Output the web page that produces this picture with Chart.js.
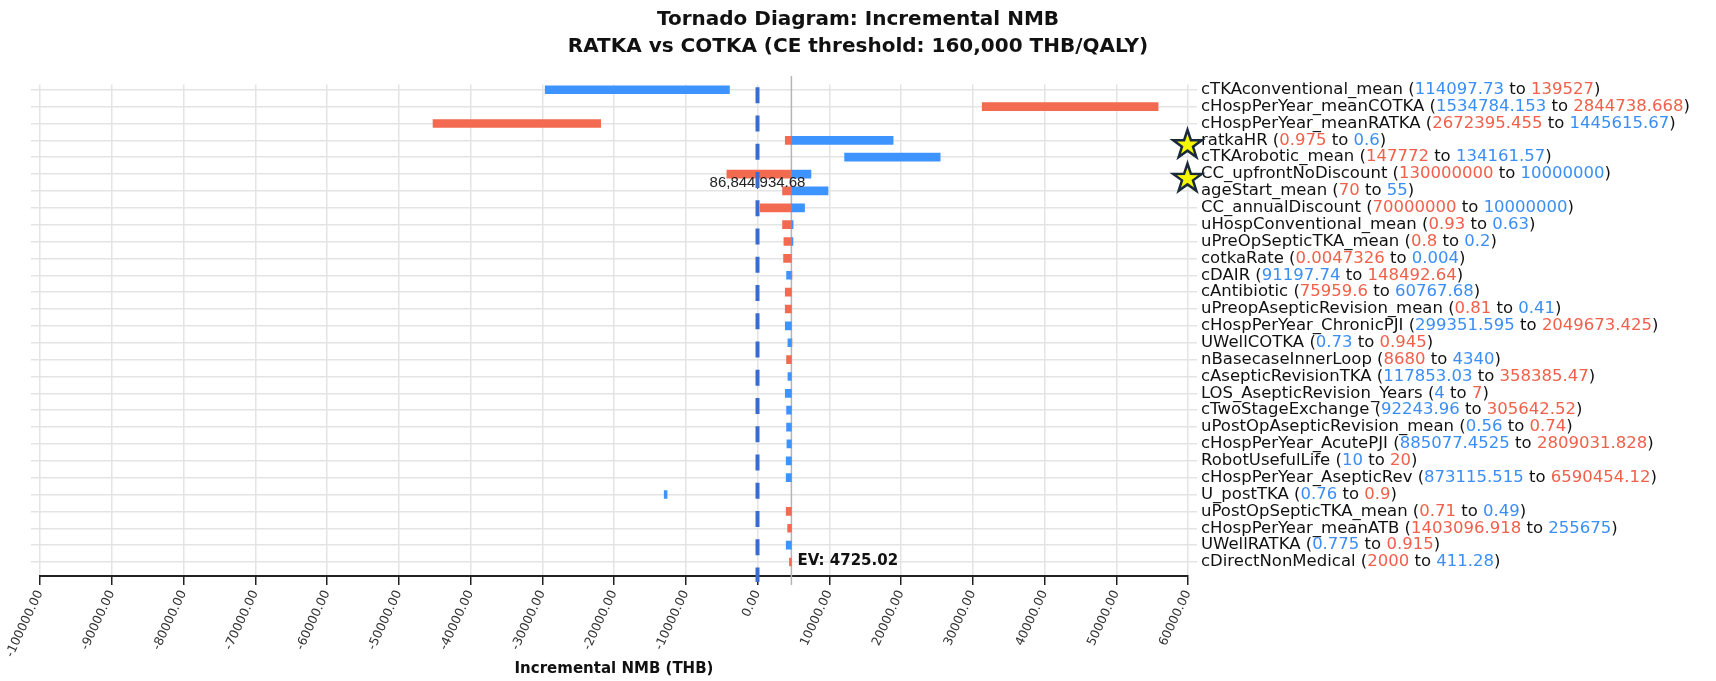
<!DOCTYPE html>
<html>
<head>
<meta charset="utf-8">
<script src="https://cdn.jsdelivr.net/npm/chart.js@4.4.1/dist/chart.umd.min.js"></script>
<style>
  html, body { margin: 0; padding: 0; background: #fff; }
</style>
</head>
<body>
<canvas id="chart" width="1716" height="681"></canvas>
<script>
// ---- DATA ----
const params = [
  'cTKAconventional_mean', 'cHospPerYear_meanCOTKA', 'cHospPerYear_meanRATKA', 'ratkaHR',
  'cTKArobotic_mean', 'CC_upfrontNoDiscount', 'ageStart_mean', 'CC_annualDiscount',
  'uHospConventional_mean', 'uPreOpSepticTKA_mean', 'cotkaRate', 'cDAIR', 'cAntibiotic',
  'uPreopAsepticRevision_mean', 'cHospPerYear_ChronicPJI', 'UWellCOTKA', 'nBasecaseInnerLoop',
  'cAsepticRevisionTKA', 'LOS_AsepticRevision_Years', 'cTwoStageExchange',
  'uPostOpAsepticRevision_mean', 'cHospPerYear_AcutePJI', 'RobotUsefulLife',
  'cHospPerYear_AsepticRev', 'U_postTKA', 'uPostOpSepticTKA_mean', 'cHospPerYear_meanATB',
  'UWellRATKA', 'cDirectNonMedical'
];
const fromVals = [
  '114097.73', '1534784.153', '2672395.455', '0.975', '147772', '130000000', '70', '70000000',
  '0.93', '0.8', '0.0047326', '91197.74', '75959.6', '0.81', '299351.595', '0.73', '8680',
  '117853.03', '4', '92243.96', '0.56', '885077.4525', '10', '873115.515', '0.76', '0.71',
  '1403096.918', '0.775', '2000'
];
const toVals = [
  '139527', '2844738.668', '1445615.67', '0.6', '134161.57', '10000000', '55', '10000000',
  '0.63', '0.2', '0.004', '148492.64', '60767.68', '0.41', '2049673.425', '0.945', '4340',
  '358385.47', '7', '305642.52', '0.74', '2809031.828', '20', '6590454.12', '0.9', '0.49',
  '255675', '0.915', '411.28'
];
// 'b' = first value shown blue, 'r' = first value shown red
const fromColor = [
  'b', 'b', 'r', 'r', 'r', 'r', 'r', 'r', 'r', 'r', 'r', 'b', 'r', 'r', 'b', 'b', 'r',
  'b', 'b', 'b', 'b', 'b', 'b', 'b', 'b', 'r', 'r', 'b', 'r'
];
const redBars = [
  null, [31320, 55830], [-45220, -21860], [3870, 4725], null, [-4270, 4725], [3490, 4725],
  [380, 4725], [3490, 4725], [3680, 4725], [3630, 4725], [4725, 4800], [3870, 4725],
  [3870, 4725], null, [4725, 4800], [4050, 4725], null, null, null, null, null, null, null,
  null, [4000, 4725], [4200, 4725], null, [4450, 4725]
];
const blueBars = [
  [-29590, -3910], null, null, [4725, 18900], [12140, 25460], [4725, 7450], [4725, 9830],
  [4725, 6560], [4725, 4960], [4725, 4940], null, [4050, 4725], null, null, [3870, 4725],
  [4240, 4725], null, [4240, 4725], [3870, 4725], [4050, 4725], [4050, 4725], [4100, 4725],
  [4000, 4725], [4000, 4725], [-13000, -12600], null, null, [4000, 4725], null
];
const starred = ['ratkaHR', 'CC_upfrontNoDiscount'];
const EV = 4725.02;
const zeroLabel = '86,844,934.68';
const xMin = -100000, xMax = 60000, xStep = 10000;

const RED = '#f26a4f', BLUE = '#3d94ff';
const RED_TXT = '#f0604a', BLUE_TXT = '#3a8ef5';
const FONT = '"DejaVu Sans", sans-serif';

const toPoints = arr => arr.map((r, i) => r && {y: i, x: r}).filter(Boolean);
const rowTicks = s => { s.ticks = params.map((_, i) => ({value: i})); };

function drawStar(ctx, cx, cy, R, r) {
  ctx.beginPath();
  for (let k = 0; k < 10; k++) {
    const rad = k % 2 ? r : R;
    const a = -Math.PI / 2 + k * Math.PI / 5;
    ctx.lineTo(cx + rad * Math.cos(a), cy + rad * Math.sin(a));
  }
  ctx.closePath();
  ctx.fillStyle = '#f6f600';
  ctx.fill();
  ctx.lineWidth = 2.5;
  ctx.strokeStyle = '#1b2a3a';
  ctx.stroke();
}

const evLine = {
  id: 'evLine',
  beforeDatasetsDraw(chart) {
    const {ctx, scales: {x}} = chart;
    const px = x.getPixelForValue(EV);
    ctx.save();
    ctx.strokeStyle = '#b5b5b5';
    ctx.lineWidth = 1.5;
    ctx.beginPath();
    ctx.moveTo(px, 76);
    ctx.lineTo(px, 585);
    ctx.stroke();
    ctx.restore();
  }
};

const overlay = {
  id: 'overlay',
  afterDraw(chart) {
    const {ctx, chartArea, scales: {x, y}} = chart;
    const x0 = x.getPixelForValue(0);
    ctx.save();

    // label on the zero line
    ctx.font = '15px "Liberation Sans", sans-serif';
    ctx.fillStyle = '#222';
    ctx.textAlign = 'center';
    ctx.textBaseline = 'middle';
    ctx.fillText(zeroLabel, x0, y.getPixelForValue(5) + 9);

    // dashed zero line
    ctx.strokeStyle = '#3a6ccf';
    ctx.lineWidth = 4;
    ctx.setLineDash([16, 12.25]);
    ctx.lineDashOffset = 25.5;
    ctx.beginPath();
    ctx.moveTo(x0, chartArea.top);
    ctx.lineTo(x0, 582);
    ctx.stroke();
    ctx.setLineDash([]);

    // EV label
    ctx.font = 'bold 15px ' + FONT;
    ctx.fillStyle = '#111';
    ctx.textAlign = 'left';
    ctx.fillText('EV: ' + EV, x.getPixelForValue(EV) + 6, y.getPixelForValue(params.length - 1) - 1);

    // parameter labels with coloured ranges
    ctx.font = '16.5px ' + FONT;
    const lx = chartArea.right + 13;
    params.forEach((name, i) => {
      const py = y.getPixelForValue(i);
      const c1 = fromColor[i] === 'r' ? RED_TXT : BLUE_TXT;
      const c2 = fromColor[i] === 'r' ? BLUE_TXT : RED_TXT;
      const parts = [[name + ' (', '#111'], [fromVals[i], c1], [' to ', '#111'], [toVals[i], c2], [')', '#111']];
      let cx = lx;
      parts.forEach(([t, c]) => {
        ctx.fillStyle = c;
        ctx.fillText(t, cx, py);
        cx += ctx.measureText(t).width;
      });
      if (starred.includes(name)) drawStar(ctx, chartArea.right - 0.5, py + 4.5, 15, 5.8);
    });
    ctx.restore();
  }
};

new Chart(document.getElementById('chart'), {
  type: 'bar',
  data: {
    datasets: [
      {data: toPoints(redBars), backgroundColor: RED, barThickness: 8, grouped: false, borderWidth: 0},
      {data: toPoints(blueBars), backgroundColor: BLUE, barThickness: 8, grouped: false, borderWidth: 0}
    ]
  },
  options: {
    indexAxis: 'y',
    responsive: false,
    animation: false,
    layout: {padding: 0},
    plugins: {
      legend: {display: false},
      tooltip: {enabled: false},
      title: {
        display: true,
        text: ['Tornado Diagram: Incremental NMB', 'RATKA vs COTKA (CE threshold: 160,000 THB/QALY)'],
        color: '#111',
        font: {family: FONT, size: 20, weight: 'bold', lineHeight: 1.35},
        padding: {top: 6, bottom: 24.5}
      }
    },
    scales: {
      x: {
        type: 'linear',
        min: xMin,
        max: xMax,
        ticks: {
          stepSize: xStep,
          callback: v => Number(v).toFixed(2),
          minRotation: 65,
          maxRotation: 65,
          color: '#333',
          padding: 3,
          font: {family: FONT, size: 12.5}
        },
        grid: {color: '#e4e4e4', lineWidth: 1.5, tickColor: '#222', tickLength: 9, tickWidth: 1.5},
        border: {color: '#222', width: 2},
        title: {
          display: true,
          text: 'Incremental NMB (THB)',
          color: '#111',
          font: {family: FONT, size: 15, weight: 'bold'},
          padding: {top: 0, bottom: 3}
        },
        afterFit: s => { s.height = 105; }
      },
      y: {
        type: 'linear',
        position: 'right',
        reverse: true,
        offset: false,
        min: -0.31,
        max: 28.83,
        afterBuildTicks: rowTicks,
        ticks: {display: false},
        grid: {color: '#e4e4e4', lineWidth: 1.5, tickLength: 9, offset: false},
        border: {display: false},
        afterFit: s => { s.width = 528; }
      },
      y2: {
        type: 'linear',
        position: 'left',
        reverse: true,
        offset: false,
        min: -0.31,
        max: 28.83,
        afterBuildTicks: rowTicks,
        ticks: {display: false},
        grid: {color: '#e4e4e4', lineWidth: 1.5, tickLength: 9, drawOnChartArea: false, offset: false},
        border: {display: false},
        afterFit: s => { s.width = 40; }
      }
    }
  },
  plugins: [evLine, overlay]
});
</script>
</body>
</html>
